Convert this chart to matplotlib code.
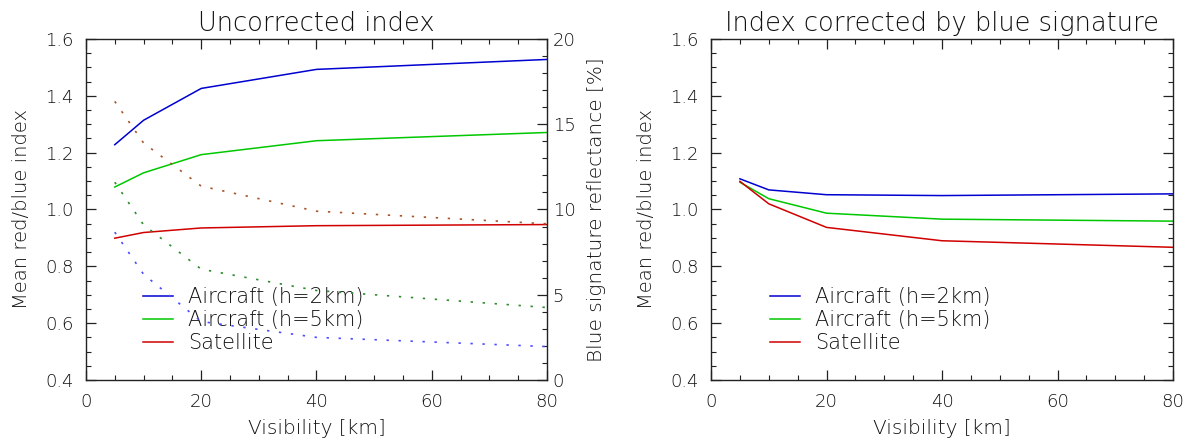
import matplotlib
matplotlib.use("Agg")
import matplotlib.pyplot as plt
from matplotlib.ticker import MultipleLocator

plt.rcParams['font.family'] = ['DejaVu Sans']
plt.rcParams['font.weight'] = 'light'
plt.rcParams['axes.titleweight'] = 'light'
plt.rcParams['axes.labelweight'] = 'light'

visibility = [5, 10, 20, 40, 80]

# Uncorrected index (left axis)
unc_air2 = [1.228, 1.314, 1.426, 1.493, 1.528]
unc_air5 = [1.079, 1.129, 1.193, 1.242, 1.271]
unc_sat = [0.899, 0.919, 0.935, 0.943, 0.947]

# Blue signature reflectance [%] (right axis, dotted)
refl_air2 = [8.67, 6.2, 3.43, 2.5, 1.96]
refl_air5 = [11.6, 9.1, 6.5, 5.25, 4.25]
refl_sat = [16.34, 13.9, 11.37, 9.9, 9.16]

# Corrected index
cor_air2 = [1.108, 1.069, 1.052, 1.049, 1.055]
cor_air5 = [1.096, 1.038, 0.987, 0.966, 0.959]
cor_sat = [1.099, 1.020, 0.937, 0.890, 0.867]

labels = ["Aircraft (h=2km)", "Aircraft (h=5km)", "Satellite"]
c_blue, c_green, c_red = "#0000d0", "#00c800", "#d00000"
d_blue, d_green, d_brown = "#4a4aff", "#2e8b2e", "#a8552a"

txt = "#111111"
fs_tick = 13
fs_lab = 14.5
fs_ylab = 14
fs_title = 18.5
fs_leg = 15

fig = plt.figure(figsize=(11.92, 4.43), dpi=100)
axL = fig.add_axes([0.0721, 0.1422, 0.3868, 0.7698])
axR = fig.add_axes([0.5965, 0.1422, 0.3876, 0.7698])


def style(ax, right_ticks=True):
    ax.set_xlim(0, 80)
    ax.set_ylim(0.4, 1.6)
    ax.xaxis.set_major_locator(MultipleLocator(20))
    ax.xaxis.set_minor_locator(MultipleLocator(5))
    ax.yaxis.set_major_locator(MultipleLocator(0.2))
    ax.yaxis.set_minor_locator(MultipleLocator(0.05))
    ax.yaxis.set_major_formatter(plt.FuncFormatter(lambda v, p: f"{v:.1f}"))
    ax.tick_params(which='both', direction='in', top=True, right=right_ticks,
                   colors='#222222', labelcolor=txt, labelsize=fs_tick)
    ax.tick_params(which='major', length=7, width=0.9, pad=9)
    ax.tick_params(which='minor', length=3.5, width=0.8)
    for s in ax.spines.values():
        s.set_color('#222222')
        s.set_linewidth(1.0)
    ax.set_xlabel("Visibility [km]", fontsize=fs_lab, color=txt, labelpad=6)
    ax.set_ylabel("Mean red/blue index", fontsize=fs_ylab, color=txt, labelpad=10)


style(axL, right_ticks=False)
style(axR)

lw = 1.1
axL.plot(visibility, unc_air2, color=c_blue, lw=lw, label=labels[0])
axL.plot(visibility, unc_air5, color=c_green, lw=lw, label=labels[1])
axL.plot(visibility, unc_sat, color=c_red, lw=lw, label=labels[2])
axL.set_title("Uncorrected index", fontsize=fs_title, color=txt, pad=6)

ax2 = axL.twinx()
ax2.set_ylim(0, 20)
ax2.yaxis.set_major_locator(MultipleLocator(5))
ax2.yaxis.set_minor_locator(MultipleLocator(1))
ax2.tick_params(which='both', direction='in', colors='#222222', labelcolor=txt, labelsize=fs_tick)
ax2.tick_params(which='major', length=7, width=0.9, pad=4)
ax2.tick_params(which='minor', length=3.5, width=0.8)
for s in ax2.spines.values():
    s.set_visible(False)
ax2.set_ylabel("Blue signature reflectance [%]", fontsize=fs_lab, color=txt, labelpad=8)
dots = (0, (1.4, 5.8))
ax2.plot(visibility, refl_air2, color=d_blue, lw=1.2, linestyle=dots)
ax2.plot(visibility, refl_air5, color=d_green, lw=1.2, linestyle=dots)
ax2.plot(visibility, refl_sat, color=d_brown, lw=1.2, linestyle=dots)

axR.plot(visibility, cor_air2, color=c_blue, lw=lw, label=labels[0])
axR.plot(visibility, cor_air5, color=c_green, lw=lw, label=labels[1])
axR.plot(visibility, cor_sat, color=c_red, lw=lw, label=labels[2])
axR.set_title("Index corrected by blue signature", fontsize=fs_title, color=txt, pad=6)

for ax, anchor in ((axL, (0.124, 0.272)), (axR, (0.128, 0.272))):
    leg = ax.legend(loc='upper left', bbox_to_anchor=anchor, frameon=False,
                    fontsize=fs_leg, handlelength=1.45, handletextpad=0.72,
                    labelspacing=0.15, borderaxespad=0, borderpad=0)
    for t in leg.get_texts():
        t.set_color(txt)

fig.savefig("out.png", dpi=100)
